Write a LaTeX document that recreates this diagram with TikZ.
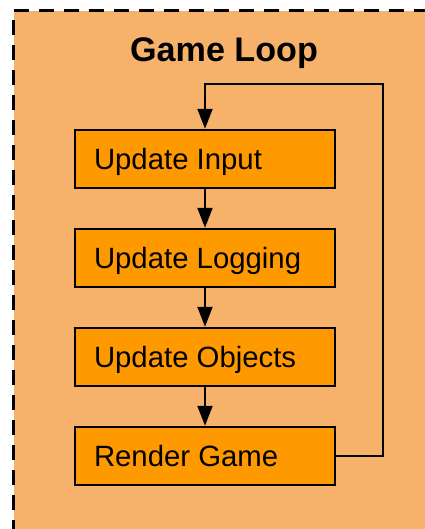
\documentclass[tikz,border=0pt]{standalone}
\usepackage{fontspec}
\setmainfont{Liberation Sans}
\usetikzlibrary{arrows.meta}
\definecolor{bgorange}{HTML}{F6B26B}
\definecolor{boxorange}{HTML}{FF9900}
\newcommand{\leftbox}[1]{\makebox[166.5pt][l]{#1}}
\tikzset{
  stepbox/.style={draw=black, fill=boxorange, line width=1.875pt,
    inner xsep=14.25pt, inner ysep=0pt,
    minimum height=43.5pt, text height=15.75pt, text depth=0pt,
    font=\fontsize{22}{26}\selectfont},
  flow/.style={draw=black, line width=1.6pt,
    -{Triangle[width=11.25pt,length=15pt]}},
  titletext/.style={font=\fontsize{25.6}{30}\selectfont\bfseries, inner sep=0pt}
}
\begin{document}
\begin{tikzpicture}[x=0.75pt,y=-0.75pt]
\useasboundingbox (0,0) rectangle (425,529);
\fill[white] (0,0) rectangle (425,529);
\fill[bgorange] (13.5,10.5) rectangle (430,535);
\draw[black, line width=2.25pt, dash pattern=on 11.25pt off 7.5pt] (13.5,535) -- (13.5,10.5) -- (430,10.5);
\node[titletext, anchor=base] (title) at (224,61.5) {Game Loop};
\node[stepbox] (input) at (205,159) {\leftbox{Update Input}};
\node[stepbox] (logging) at (205,258) {\leftbox{Update Logging}};
\node[stepbox] (objects) at (205,357) {\leftbox{Update Objects}};
\node[stepbox] (render) at (205,456) {\leftbox{Render Game}};
\coordinate (loopcorner) at (383,84);
\draw[flow] (input) -- (logging);
\draw[flow] (logging) -- (objects);
\draw[flow] (objects) -- (render);
\draw[flow] (render.east) -| (loopcorner) -| (input.north);
\end{tikzpicture}
\end{document}
